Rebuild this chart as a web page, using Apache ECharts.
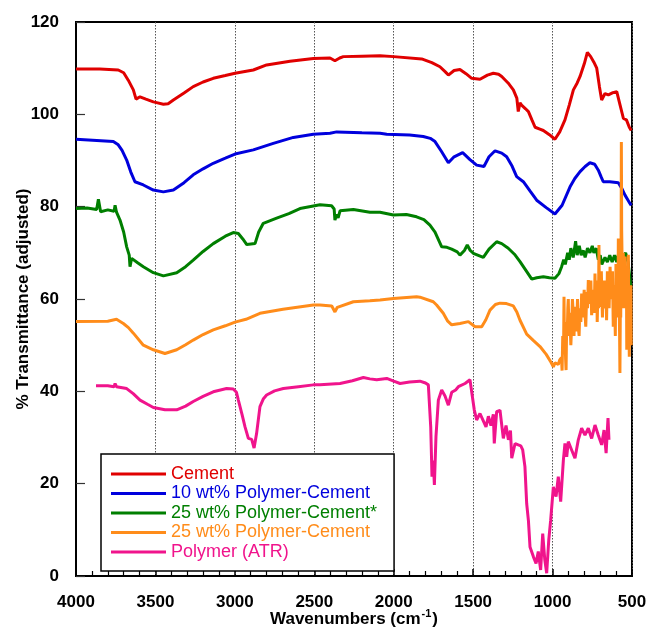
<!DOCTYPE html>
<html>
<head>
<meta charset="utf-8">
<script src="https://cdn.jsdelivr.net/npm/echarts@6/dist/echarts.min.js"></script>
<style>
  html, body { margin: 0; padding: 0; background: #fff; }
  #chart { width: 649px; height: 635px; }
</style>
</head>
<body>
<div id="chart"></div>
<script>
// FTIR spectra, [wavenumber cm-1, % transmittance (adjusted)]
const SERIES_NAMES = [
    'Cement',
    '10 wt% Polymer-Cement',
    '25 wt% Polymer-Cement*',
    '25 wt% Polymer-Cement',
    'Polymer (ATR)',
];
const COLORS = ['#e00000', '#0000dd', '#007f00', '#ff8c1a', '#f0148c'];

const cement = [
    [4000, 109.8], [3850, 109.8], [3734, 109.6], [3700, 109], [3671, 107.4], [3639, 105.3],
    [3622, 103.3], [3597, 103.8], [3560, 103.3], [3513, 102.7], [3450, 102.2], [3420, 102.3],
    [3387, 103.1], [3320, 104.6], [3262, 106], [3200, 107], [3136, 107.8], [3060, 108.4],
    [2999, 108.9], [2884, 109.6], [2800, 110.7], [2653, 111.5], [2506, 112.1], [2401, 112.2],
    [2370, 111.6], [2340, 112.2], [2317, 112.5], [2200, 112.6], [2086, 112.7], [2000, 112.5],
    [1824, 112], [1760, 111.2], [1709, 110.3], [1675, 109.2], [1656, 108.5], [1620, 109.5],
    [1583, 109.7], [1545, 108.8], [1509, 107.8], [1457, 107.6], [1410, 108.5], [1373, 108.9],
    [1340, 108.7], [1320, 108.2], [1280, 106.8], [1247, 105.3], [1225, 103.5], [1216, 100.6],
    [1205, 102.5], [1195, 102], [1170, 101.2], [1152, 100.6], [1130, 98.8], [1110, 97.2],
    [1080, 96.8], [1058, 96.5], [1020, 95.6], [985, 94.6], [955, 96.2], [922, 98.8],
    [895, 102], [869, 105.3], [845, 106.8], [827, 108.2], [800, 111], [781, 113.4],
    [760, 112.5], [740, 111.3], [722, 110], [705, 106], [691, 103.1], [670, 104.5],
    [649, 104.2], [620, 104.7], [596, 104.9], [575, 102], [554, 99.1], [535, 98.8],
    [517, 97.2], [505, 96.5],
];

const pc10 = [
    [4000, 94.6], [3765, 94.1], [3734, 93.4], [3710, 92.2], [3681, 90.1], [3655, 87.5],
    [3629, 85.4], [3576, 84.7], [3513, 83.6], [3450, 83.2], [3387, 83.6], [3320, 85.2],
    [3262, 86.9], [3200, 88.2], [3136, 89.4], [3060, 90.5], [2999, 91.4], [2884, 92.3],
    [2758, 93.7], [2632, 95], [2506, 95.7], [2401, 95.9], [2359, 96.2], [2200, 96],
    [2086, 95.9], [2044, 95.7], [1900, 95.5], [1814, 95.2], [1770, 94.8], [1740, 94.1],
    [1700, 92], [1656, 89.5], [1620, 90.8], [1566, 91.7], [1520, 90.2], [1478, 89],
    [1432, 88.7], [1400, 90.8], [1362, 92.1], [1320, 91.6], [1289, 90.8], [1255, 88.8],
    [1226, 86.5], [1184, 85.4], [1140, 83.3], [1100, 81.4], [1040, 79.8], [985, 78.4],
    [940, 80.3], [890, 84.3], [860, 86.1], [827, 87.6], [795, 88.7], [765, 89.5],
    [735, 89.2], [712, 87.9], [695, 86.5], [681, 85.4], [640, 85.4], [586, 85.2],
    [565, 84], [544, 82.5], [525, 81.4], [513, 80.7], [505, 80.3],
];

const pc25s = [
    [4000, 79.6], [3930, 79.7], [3870, 79.4], [3859, 81.6], [3845, 78.9], [3800, 79.3],
    [3760, 79], [3754, 80.3], [3745, 78.8], [3723, 77.1], [3700, 74.5], [3681, 71.3],
    [3665, 69.5], [3660, 67], [3650, 68.8], [3610, 67.8], [3576, 67], [3513, 65.7],
    [3450, 65], [3366, 65.7], [3310, 67], [3262, 68.4], [3200, 70.3], [3136, 72],
    [3060, 73.6], [3010, 74.4], [2978, 74.2], [2950, 73], [2925, 71.8], [2873, 72],
    [2850, 74.5], [2821, 76.4], [2737, 77.5], [2660, 78.5], [2590, 79.6], [2464, 80.4],
    [2391, 80.2], [2375, 79.5], [2370, 77.1], [2360, 78.3], [2350, 77.6], [2338, 79.1],
    [2254, 79.4], [2150, 78.8], [2086, 78.8], [2002, 78.2], [1920, 78.3], [1856, 77.8],
    [1810, 77.2], [1772, 76], [1740, 74.5], [1698, 71.3], [1665, 71.2], [1635, 70.8],
    [1600, 70.2], [1583, 69.5], [1555, 70.5], [1537, 71.7], [1520, 70.6], [1499, 69.9],
    [1436, 69], [1400, 70.8], [1352, 72.4], [1320, 72], [1279, 71], [1240, 69.7],
    [1205, 68.1], [1170, 66.3], [1131, 64.3], [1100, 64.6], [1058, 64.8], [1020, 64.6],
    [985, 64.5], [960, 65.5], [943, 67], [930, 68.5], [920, 67.5], [905, 70],
    [895, 68.5], [885, 71], [870, 69], [855, 72.5], [845, 69.5], [832, 71.5],
    [820, 69.5], [806, 70.5], [795, 69], [780, 71], [765, 70], [750, 71.5],
    [740, 70], [725, 71], [712, 68.5], [700, 69.5], [690, 67.5], [670, 69],
    [655, 68], [640, 69.5], [625, 68], [610, 69.5], [596, 68], [580, 70.5],
    [560, 69], [540, 70], [525, 68], [515, 65], [508, 62.7],
];

const pc25 = [
    [4000, 55.1], [3800, 55.2], [3745, 55.6], [3702, 54.7], [3670, 53.8], [3639, 52.6],
    [3576, 50], [3513, 49], [3440, 48.2], [3366, 49], [3310, 50.1], [3262, 51.1],
    [3200, 52.3], [3136, 53.3], [3060, 54.2], [2999, 55], [2930, 55.6], [2842, 56.9],
    [2697, 57.8], [2506, 58.7], [2464, 58.7], [2390, 58.5], [2370, 57.2], [2355, 58.2],
    [2254, 59.4], [2150, 59.6], [2086, 59.8], [2002, 60.1], [1856, 60.5], [1835, 60.4],
    [1751, 59.4], [1730, 58.7], [1688, 56.9], [1660, 55.2], [1635, 54.4], [1583, 54.7],
    [1530, 55.1], [1488, 54], [1446, 54], [1420, 55.5], [1394, 57.6], [1360, 58.8],
    [1331, 59.1], [1290, 59], [1247, 58.5], [1225, 57.2], [1205, 55.4], [1163, 52.4],
    [1120, 51], [1079, 49.7], [1040, 48], [1010, 46.3], [995, 45.3], [985, 46.2],
    [975, 46.6], [964, 45.8], [955, 46.8], [944, 47.3], [940, 44.5], [936, 52], [931, 48],
    [928, 60.5], [925, 50], [922, 53], [918, 47], [915, 44.6], [911, 55], [908, 52],
    [904, 58], [901, 60], [897, 52], [894, 57], [890, 55], [885, 50], [880, 54],
    [875, 60], [870, 57], [865, 52], [859, 58.3], [854, 53], [848, 55], [843, 60],
    [838, 54], [833, 52], [828, 58], [822, 55], [817, 61.2], [811, 56], [806, 58],
    [801, 62], [796, 57], [791, 54], [785, 61.5], [780, 58], [775, 64.1], [770, 59],
    [764, 60], [759, 64], [754, 56.5], [748, 60], [743, 62], [738, 57], [733, 65.5],
    [729, 58], [725, 60], [722, 64], [719, 55], [714, 62], [711, 58], [708, 71.7],
    [705, 60], [702, 63], [697, 58.3], [693, 66], [690, 61], [686, 56], [681, 64],
    [676, 60], [670, 58], [665, 64], [660, 55.4], [655, 66], [650, 62], [644, 58],
    [638, 67], [633, 62], [628, 60], [623, 66], [618, 54], [614, 63], [610, 60],
    [605, 52], [601, 67.6], [597, 60], [592, 66], [589, 56], [586, 73.1], [583, 63],
    [581, 60], [578, 52], [576, 44], [573, 60], [571, 56], [569, 66], [567, 94],
    [565, 75], [563, 70], [561, 58], [559, 64], [555, 70], [552, 66], [548, 58],
    [544, 69.2], [541, 63], [538, 60], [535, 66], [533, 49], [530, 55], [528, 58],
    [525, 65], [523, 69.6], [520, 58], [517, 47.5], [514, 60], [510, 52], [507, 63],
    [505, 50],
];

const polymer = [
    [3874, 41.2], [3800, 41.2], [3760, 41], [3754, 41.7], [3745, 41], [3681, 40.6],
    [3640, 39.5], [3597, 38.1], [3550, 37.2], [3513, 36.5], [3440, 36], [3366, 36],
    [3310, 36.8], [3262, 37.8], [3200, 38.9], [3136, 39.9], [3052, 40.6], [3010, 40.5],
    [2990, 39.8], [2978, 38.1], [2955, 35], [2936, 32.3], [2915, 29.8], [2894, 29.6],
    [2879, 27.7], [2863, 30.9], [2842, 36.7], [2820, 38.4], [2800, 39.2], [2750, 40.1],
    [2695, 40.6], [2600, 41], [2506, 41.4], [2464, 41.4], [2338, 41.7], [2260, 42.3],
    [2191, 43], [2150, 42.7], [2107, 42.5], [2044, 42.8], [2000, 42.2], [1960, 41.7],
    [1900, 42], [1835, 42.2], [1800, 41.8], [1782, 41.4], [1776, 41.7], [1767, 32.3],
    [1759, 21.5], [1751, 25], [1744, 19.7], [1734, 30.2], [1719, 38.1], [1698, 40.3],
    [1677, 39], [1656, 37], [1635, 39.8], [1610, 40.3], [1593, 41], [1551, 41.7],
    [1520, 42.5], [1509, 42.3], [1493, 36], [1478, 33.8], [1457, 35.2], [1436, 33.6],
    [1419, 32.3], [1404, 34.6], [1388, 32.6], [1373, 35], [1367, 28.7], [1352, 35.6],
    [1331, 35.9], [1310, 29.8], [1293, 32.6], [1278, 29.5], [1265, 31.5], [1257, 25.5],
    [1236, 28.7], [1216, 28.4], [1200, 28.2], [1188, 27.3], [1174, 23.7], [1163, 15.7],
    [1152, 12], [1142, 6.3], [1121, 4.2], [1104, 2.7], [1090, 5.3], [1075, 1.3],
    [1062, 9.2], [1049, 3.5], [1037, 0.6], [1024, 7.8], [1012, 12.1], [995, 19.3],
    [978, 17.2], [964, 21.5], [949, 16.1], [932, 25.1], [922, 28.7], [911, 25.8],
    [901, 29.1], [880, 27.3], [859, 25.5], [838, 29.5], [817, 32], [796, 30.5],
    [775, 32], [754, 29.8], [733, 32.7], [712, 30.5], [691, 28.4], [676, 31.6],
    [663, 26.6], [651, 34.2], [645, 29.5],
];

const SERIES_DATA = [cement, pc10, pc25s, pc25, polymer];

const X_MIN = 500, X_MAX = 4000, X_STEP = 500;
const Y_MIN = 0, Y_MAX = 120, Y_STEP = 20;

const chart = echarts.init(document.getElementById('chart'), null, { renderer: 'canvas' });

const font = 'Arial, "Liberation Sans", Helvetica, sans-serif';

const option = {
    animation: false,
    backgroundColor: '#fff',
    grid: {
        left: 76, right: 17, top: 22, bottom: 59,
        outerBoundsMode: 'none',
        containLabel: false,
        show: true,
        borderColor: '#000',
        borderWidth: 2,
    },
    legend: {
        data: SERIES_NAMES.map((n, i) => ({ name: n, textStyle: { color: COLORS[i] } })),
        orient: 'vertical',
        left: 101,
        top: 454,
        width: 296,
        icon: 'rect',
        itemWidth: 55,
        itemHeight: 3,
        itemGap: 1.5,
        padding: [11, 17, 10, 10],
        borderColor: '#000',
        borderWidth: 1.5,
        backgroundColor: '#fff',
        textStyle: { fontFamily: font, fontSize: 18, lineHeight: 18 },
    },
    xAxis: {
        type: 'value',
        inverse: true,
        min: X_MIN,
        max: X_MAX,
        interval: X_STEP,
        name: '{a|Wavenumbers (cm}{s|-1}{a|)}',
        nameLocation: 'middle',
        nameGap: 32,
        nameMoveOverlap: false,
        nameTextStyle: {
            rich: {
                a: { fontFamily: font, fontSize: 17, fontWeight: 'bold', color: '#000', lineHeight: 20, verticalAlign: 'bottom' },
                s: { fontFamily: font, fontSize: 11, fontWeight: 'bold', color: '#000', lineHeight: 20, verticalAlign: 'top', padding: [0, 1, 8, 1] },
            },
        },
        axisLine: { lineStyle: { color: '#000', width: 2 } },
        axisTick: { inside: true, length: 7, lineStyle: { color: '#000', width: 1.5 } },
        minorTick: { show: true, splitNumber: 5, length: 5, lineStyle: { color: '#000', width: 1.2 } },
        axisLabel: {
            fontFamily: font, fontSize: 17, fontWeight: 'bold', color: '#000', margin: 18,
            formatter: v => String(v),
        },
        splitLine: { show: true, lineStyle: { color: '#555', width: 1, type: [1.5, 1.5] } },
    },
    yAxis: {
        type: 'value',
        min: Y_MIN,
        max: Y_MAX,
        interval: Y_STEP,
        name: '% Transmittance (adjusted)',
        nameLocation: 'middle',
        nameGap: 44,
        nameMoveOverlap: false,
        nameTextStyle: { fontFamily: font, fontSize: 17, fontWeight: 'bold', color: '#000' },
        axisLine: { lineStyle: { color: '#000', width: 2 } },
        axisTick: { inside: true, length: 9, lineStyle: { color: '#333', width: 1.2 } },
        axisLabel: { fontFamily: font, fontSize: 17, fontWeight: 'bold', color: '#000', margin: 17 },
        splitLine: { show: false },
    },
    series: SERIES_DATA.map((d, i) => ({
        name: SERIES_NAMES[i],
        type: 'line',
        data: d,
        symbol: 'none',
        smooth: false,
        clip: true,
        color: COLORS[i],
        lineStyle: { color: COLORS[i], width: 3 },
    })),
};

chart.setOption(option);
</script>
</body>
</html>
